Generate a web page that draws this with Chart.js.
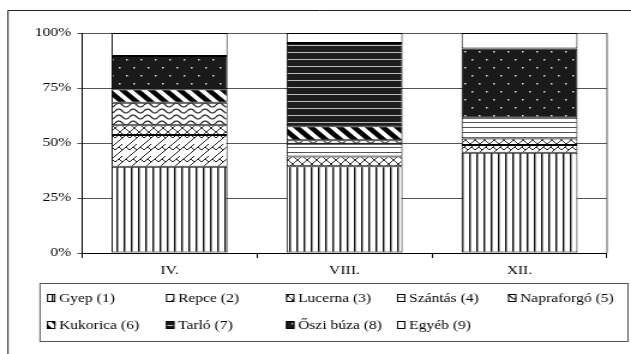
<!DOCTYPE html>
<html>
<head>
<meta charset="utf-8">
<script src="https://cdn.jsdelivr.net/npm/chart.js@4/dist/chart.umd.min.js"></script>
<style>
  html, body { margin: 0; padding: 0; background: #fff; overflow: hidden; }
  canvas { display: block; }
</style>
</head>
<body>
<!-- the reference is stretched sideways, so the canvas is drawn narrower and widened by CSS -->
<canvas id="chart" width="526" height="354" style="width:631px;height:354px"></canvas>
<script>
const categories = ['IV.', 'VIII.', 'XII.'];
const seriesNames = ['Gyep (1)', 'Repce (2)', 'Lucerna (3)', 'Szántás (4)', 'Napraforgó (5)',
                     'Kukorica (6)', 'Tarló (7)', 'Őszi búza (8)', 'Egyéb (9)'];
const gyep       = [39.2, 39.4, 45.6];
const repce      = [14.4, 0, 3.5];
const lucerna    = [4.5, 4.5, 3.0];
const szantas    = [0, 5.8, 9.4];
const napraforgo = [10.2, 1.5, 0];
const kukorica   = [6.1, 6.4, 0];
const tarlo      = [0, 37.9, 0];
const osziBuza   = [15.2, 0, 31.4];
const egyeb      = [10.4, 4.5, 7.1];
const tickLabels = ['0%', '25%', '50%', '75%', '100%'];

const S = 631 / 526;   // horizontal stretch
const FONT = '"Liberation Serif", "Times New Roman", serif';

const canvas = document.getElementById('chart');
const ctx = canvas.getContext('2d');

function tile(w, h, draw) {
    const c = document.createElement('canvas');
    c.width = w;
    c.height = h;
    const g = c.getContext('2d');
    draw(g, w, h);
    return ctx.createPattern(c, 'repeat');
}

const fills = [
    // Gyep: vertical lines
    tile(6, 4, (g) => {
        g.fillStyle = '#fff'; g.fillRect(0, 0, 6, 4);
        g.fillStyle = '#111'; g.fillRect(1, 0, 1, 4);
        g.fillStyle = '#999'; g.fillRect(2, 0, 1, 4);
    }),
    // Repce: diagonal brick
    tile(12, 12, (g) => {
        g.fillStyle = '#fff'; g.fillRect(0, 0, 12, 12);
        g.strokeStyle = '#222'; g.lineWidth = 1;
        g.beginPath();
        for (const dx of [-12, 0, 12]) {
            for (const dy of [-12, 0, 12]) {
                g.moveTo(dx, dy + 6); g.lineTo(dx + 6, dy);
                g.moveTo(dx, dy + 12); g.lineTo(dx + 12, dy);
                g.moveTo(dx + 3, dy + 3); g.lineTo(dx + 6, dy + 6);
                g.moveTo(dx + 9, dy + 3); g.lineTo(dx + 12, dy + 6);
            }
        }
        g.stroke();
    }),
    // Lucerna: diamond lattice
    tile(8, 8, (g) => {
        g.fillStyle = '#fff'; g.fillRect(0, 0, 8, 8);
        g.strokeStyle = '#333'; g.lineWidth = 1;
        g.beginPath();
        g.moveTo(0, 0); g.lineTo(8, 8);
        g.moveTo(0, 8); g.lineTo(8, 0);
        g.stroke();
    }),
    // Szántás: thin horizontal lines
    tile(4, 5, (g) => {
        g.fillStyle = '#fff'; g.fillRect(0, 0, 4, 5);
        g.fillStyle = '#555'; g.fillRect(0, 2, 4, 1);
    }),
    // Napraforgó: waves
    tile(12, 6, (g) => {
        g.fillStyle = '#fff'; g.fillRect(0, 0, 12, 6);
        g.strokeStyle = '#222'; g.lineWidth = 1.2;
        g.beginPath();
        for (let x = 0; x <= 12; x += 0.5) {
            const y = 3 - 2 * Math.sin(2 * Math.PI * x / 12);
            if (x === 0) g.moveTo(x, y); else g.lineTo(x, y);
        }
        g.stroke();
    }),
    // Kukorica: wide diagonal stripes
    tile(12, 12, (g) => {
        g.fillStyle = '#fff'; g.fillRect(0, 0, 12, 12);
        g.strokeStyle = '#000'; g.lineWidth = 4.5;
        g.beginPath();
        for (const d of [-12, 0, 12]) {
            g.moveTo(d - 2, -2); g.lineTo(d + 14, 14);
        }
        g.stroke();
    }),
    // Tarló: black with light lines
    tile(4, 7, (g) => {
        g.fillStyle = '#1c1c1c'; g.fillRect(0, 0, 4, 7);
        g.fillStyle = '#bbb'; g.fillRect(0, 3, 4, 1);
    }),
    // Őszi búza: black with dots
    tile(12, 16, (g) => {
        g.fillStyle = '#1a1a1a'; g.fillRect(0, 0, 12, 16);
        g.fillStyle = '#ddd';
        g.fillRect(3, 3, 1.5, 1.5);
        g.fillRect(9, 11, 1.5, 1.5);
    }),
    // Egyéb
    '#ffffff'
];

const values = [gyep, repce, lucerna, szantas, napraforgo, kukorica, tarlo, osziBuza, egyeb];

const datasets = seriesNames.map((name, i) => ({
    label: name,
    data: values[i],
    backgroundColor: fills[i],
    borderColor: '#000',
    borderWidth: 1,
    borderSkipped: false
}));

// legend columns and rows, in picture pixels
const legendCols = [47, 166, 286, 397, 508];
const legendRows = [298, 325];

const framePlugin = {
    id: 'framePlugin',
    afterDraw(chart) {
        const c = chart.ctx;
        const a = chart.chartArea;
        c.save();
        c.lineWidth = 1;
        // right edge of plot area
        c.strokeStyle = '#555';
        c.beginPath();
        c.moveTo(a.right, a.top);
        c.lineTo(a.right, a.bottom);
        c.stroke();
        // outer frame
        c.strokeStyle = '#222';
        c.beginPath();
        c.moveTo(8 / S, chart.height);
        c.lineTo(8 / S, 10.5);
        c.lineTo(chart.width, 10.5);
        c.stroke();
        // legend box
        c.strokeStyle = '#555';
        c.strokeRect(40 / S, 283.5, 588 / S, 58);
        c.font = '13px ' + FONT;
        c.fillStyle = '#000';
        c.textBaseline = 'middle';
        c.textAlign = 'left';
        chart.data.datasets.forEach((ds, i) => {
            const x = legendCols[i % 5] / S;
            const y = legendRows[Math.floor(i / 5)];
            c.fillStyle = ds.backgroundColor;
            c.fillRect(x, y - 4, 7, 8);
            c.strokeStyle = '#000';
            c.strokeRect(x + 0.5, y - 3.5, 6, 7);
            c.fillStyle = '#000';
            c.fillText(ds.label, x + 10, y + 1);
        });
        c.restore();
    }
};

new Chart(ctx, {
    type: 'bar',
    data: { labels: categories, datasets: datasets },
    plugins: [framePlugin],
    options: {
        responsive: false,
        animation: false,
        devicePixelRatio: 1,
        layout: { padding: { top: 33, right: 526 - 607 / S, bottom: 0, left: 0 } },
        datasets: { bar: { categoryPercentage: 1, barPercentage: 0.663 } },
        plugins: { legend: { display: false }, tooltip: { enabled: false } },
        scales: {
            x: {
                stacked: true,
                afterFit: (s) => { s.height = 101; },
                grid: { drawOnChartArea: false, tickLength: 5, color: '#000', offset: true },
                border: { color: '#000', width: 1 },
                ticks: { color: '#000', padding: 5, font: { family: FONT, size: 13 } }
            },
            y: {
                stacked: true,
                min: 0,
                max: 100,
                afterFit: (s) => { s.width = 82 / S; },
                grid: { color: '#555', tickLength: 4 },
                border: { color: '#000', width: 1 },
                ticks: {
                    stepSize: 25,
                    color: '#000',
                    padding: 5,
                    font: { family: FONT, size: 13 },
                    callback: (v, i) => tickLabels[i]
                }
            }
        }
    }
});
</script>
</body>
</html>
